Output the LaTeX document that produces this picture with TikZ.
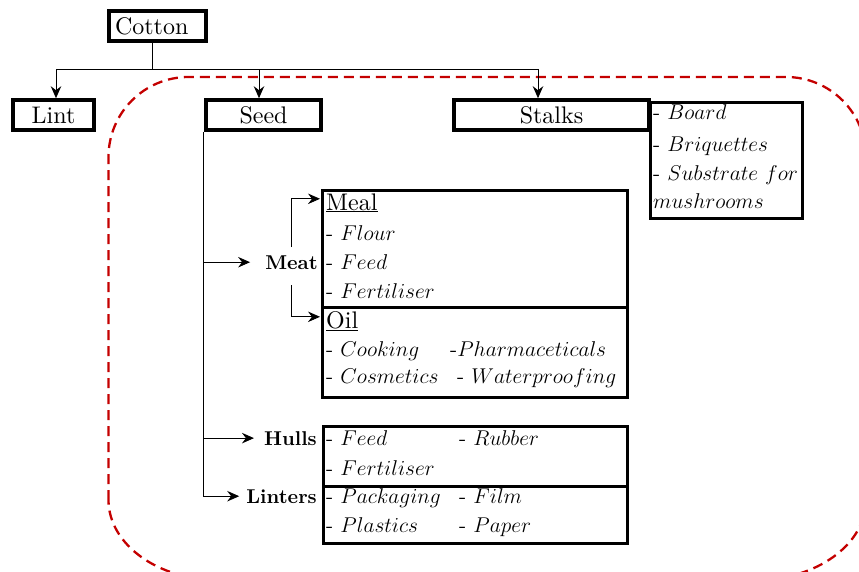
\RequirePackage{fix-cm}
\documentclass[tikz,border=0pt]{standalone}
\usepackage{fontspec}
\setmainfont{lmroman10}[Extension=.otf, UprightFont=*-regular, BoldFont=*-bold, ItalicFont=*-italic, BoldItalicFont=*-bolditalic]
\usetikzlibrary{arrows.meta,calc}
\definecolor{dashred}{RGB}{196,0,0}
\tikzset{
  mainbox/.style={draw, line width=3.6pt, inner sep=0pt, minimum height=30, font=\fontsize{24}{28}\selectfont},
  listbox/.style={draw, line width=2.6pt, inner sep=0pt, anchor=north west},
  item/.style={anchor=base west, inner sep=0pt, font=\fontsize{21.4}{25}\selectfont},
  head/.style={anchor=base west, inner sep=0pt, font=\fontsize{24}{28}\selectfont},
  lbl/.style={anchor=base east, inner sep=0pt, font=\fontsize{20}{24}\selectfont\bfseries},
  conn/.style={line width=0.9pt},
  arr/.style={conn, -{Stealth[length=12pt,width=10.5pt,inset=4pt]}},
  region/.style={draw=dashred, line width=2.3pt, dash pattern=on 10pt off 6pt}
}
\begin{document}
\begin{tikzpicture}[x=1pt,y=-1pt]
\useasboundingbox (0,0) rectangle (859,571);
\clip (0,0) rectangle (859,571);
% dashed region
\draw[region] (108.5,500) -- (108.5,157)
  arc[start angle=180, end angle=90, radius=80pt] -- (786,77)
  arc[start angle=90, end angle=0, radius=80pt] -- (866,500)
  arc[start angle=0, end angle=-90, x radius=110pt, y radius=80pt] -- (218.5,580)
  arc[start angle=270, end angle=180, x radius=110pt, y radius=80pt] -- cycle;
% main boxes
\node[mainbox, minimum width=97, text width=85, align=left] (cotton) at (157.5,26) {Cotton};
\node[mainbox, minimum width=81] (lint) at (53.5,115) {Lint};
\node[mainbox, minimum width=115] (seed) at (263.5,115) {Seed};
\node[mainbox, minimum width=195] (stalks) at (551.5,115) {Stalks};
% stalks list
\node[listbox, minimum width=152, minimum height=116] (stalkbox) at (649,101) {};
\node[item] (s1) at (653,119) {- $Board$};
\node[item] (s2) at (653,151) {- $Briquettes$};
\node[item] (s3) at (653,180) {- $Substrate$ $for$};
\node[item] (s4) at (653,208) {$mushrooms$};
% meal / oil boxes
\node[listbox, minimum width=305, minimum height=117] (meal) at (321,189) {};
\node[listbox, minimum width=305, minimum height=90] (oil) at (321,306) {};
\node[head] (meallbl) at (326,210) {\underline{Meal}};
\node[item] (m1) at (326,240) {- $Flour$};
\node[item] (m2) at (326,269) {- $Feed$};
\node[item] (m3) at (326,298) {- $Fertiliser$};
\node[head] (oillbl) at (326,328) {\underline{Oil}};
\node[item] (o1) at (326,356) {- $Cooking$};
\node[item] (o2) at (450,356) {-$Pharmaceticals$};
\node[item] (o3) at (326,383) {- $Cosmetics$};
\node[item] (o4) at (457,383) {- $Waterproofing$};
% hulls / linters boxes
\node[listbox, minimum width=304, minimum height=60] (hullbox) at (322,425) {};
\node[listbox, minimum width=304, minimum height=57] (lintbox) at (322,485) {};
\node[item] (h1) at (326,445) {- $Feed$};
\node[item] (h2) at (459,445) {- $Rubber$};
\node[item] (h3) at (326,475) {- $Fertiliser$};
\node[item] (l1) at (326,503) {- $Packaging$};
\node[item] (l2) at (459,503) {- $Film$};
\node[item] (l3) at (326,532) {- $Plastics$};
\node[item] (l4) at (459,532) {- $Paper$};
% labels
\node[lbl] (meat) at (318,269) {Meat};
\node[lbl] (hulls) at (317,445) {Hulls};
\node[lbl] (linters) at (317,503) {Linters};
% connectors from cotton
\coordinate (j) at (152,69);
\draw[conn] (cotton.south -| j) -- (j);
\draw[arr] (j) -| ([xshift=2.5pt]lint.north);
\draw[arr] (j) -| ([xshift=-4.5pt]seed.north);
\draw[arr] (j) -| ([xshift=-13.5pt]stalks.north);
% seed trunk
\draw[arr] ([xshift=-0.5pt]seed.south west) |- ([xshift=-7pt]linters.west);
\draw[arr] ([xshift=-0.5pt]seed.south west |- meat.west) -- ([xshift=-15pt]meat.west);
\draw[arr] ([xshift=-0.5pt]seed.south west |- hulls.west) -- ([xshift=-10pt]hulls.west);
% meat bracket
\draw[arr] ([yshift=8pt]meat.north) |- ([xshift=-6pt,yshift=4pt]meallbl.west);
\draw[arr] ([yshift=-16pt]meat.south) |- ([xshift=-6pt,yshift=4pt]oillbl.west);
\end{tikzpicture}
\end{document}
